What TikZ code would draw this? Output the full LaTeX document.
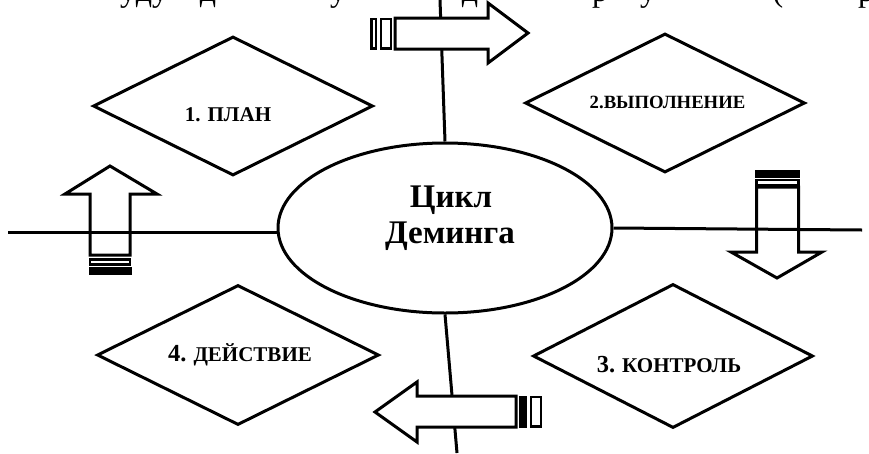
\documentclass[tikz,border=0pt]{standalone}
\usepackage{fontspec}
\setmainfont{Liberation Serif}
\usetikzlibrary{shapes.geometric}
\begin{document}
\begin{tikzpicture}[x=1pt,y=-1pt, line join=miter,
  ln/.style={line width=3pt},
  dia/.style={diamond, draw, line width=3pt, minimum width=280pt, minimum height=139pt, inner sep=0pt},
  lbl/.style={font=\bfseries, inner sep=0pt, anchor=base},
  arr/.style={draw, line width=3pt},
  bar/.style={draw, line width=2.5pt},
  frag/.style={font=\fontsize{32}{36}\selectfont, anchor=base, inner sep=0pt}]
\useasboundingbox (0,0) rectangle (869,453);
\begin{scope}
\clip (0,0) rectangle (869,453);
\node[frag] (f1) at (128,1) {у};
\node[frag] (f2) at (144,1) {д};
\node[frag] (f3) at (160,1) {у};
\node[frag] (f4) at (208,1) {д};
\node[frag] (f5) at (338,1) {у};
\node[frag] (f6) at (470,1) {д};
\node[frag] (f7) at (600,1) {р};
\node[frag] (f8) at (648,1) {у};
\node[frag] (f9) at (778,1) {(};
\node[frag] (f10) at (866,1) {р};
\end{scope}
% diamonds
\node[dia] (d1) at (233,106) {};
\node[dia] (d2) at (665,103) {};
\node[dia, minimum width=282pt, minimum height=140pt] (d4) at (238,355) {};
\node[dia, minimum height=144pt] (d3) at (673,356) {};
\node[lbl, font=\bfseries\fontsize{21}{24}\selectfont] (t1) at (228,121) {1. ПЛАН};
\node[lbl, font=\bfseries\fontsize{18.7}{22}\selectfont] (t2) at (667.5,108) {2.ВЫПОЛНЕНИЕ};
\node[lbl, font=\bfseries\fontsize{21}{24}\selectfont] (t4) at (240,361) {{\fontsize{24.5}{26}\selectfont 4.} ДЕЙСТВИЕ};
\node[lbl, font=\bfseries\fontsize{21}{24}\selectfont] (t3) at (669,372) {{\fontsize{24.5}{26}\selectfont 3.} КОНТРОЛЬ};
% ellipse
\node[ellipse, draw, line width=3pt, minimum width=334pt, minimum height=170pt] (ell) at (445,228) {};
\node[lbl, font=\bfseries\fontsize{33}{36}\selectfont] (c1) at (451,207) {Цикл};
\node[lbl, font=\bfseries\fontsize{33}{36}\selectfont] (c2) at (450,243) {Деминга};
% axis lines
\coordinate (Lend) at (8,232);
\coordinate (Rend) at (862,230);
\coordinate (Tend) at (440,0);
\coordinate (Bend) at (457,453);
\draw[ln] (Lend) -- (Lend -| ell.west);
\draw[ln] (ell.east) -- (Rend);
\draw[ln] (ell.north) -- (Tend);
\draw[ln] (ell.south) -- (Bend);
% top arrow (right)
\draw[arr, fill=white] (395,18) -- (488,18) -- (488,3) -- (528,33) -- (488,63) -- (488,49) -- (395,49) -- cycle;
\draw[bar, fill=white] (371.5,19) rectangle (376,48.5);
\draw[bar, fill=white] (381,19) rectangle (391,48.5);
% bottom arrow (left)
\draw[arr, fill=white] (516,396) -- (417,396) -- (417,382) -- (375,412) -- (417,442) -- (417,427) -- (516,427) -- cycle;
\draw[bar, fill=black] (520,397) rectangle (526,426.5);
\draw[bar, fill=white] (531,397) rectangle (541,426.5);
% left arrow (up)
\draw[arr] (90,255) -- (90,194) -- (65,194) -- (110,166) -- (157,194) -- (130,194) -- (130,255) -- cycle;
\draw[bar] (90,259.5) rectangle (130,264.5);
\fill (88.5,267) rectangle (131.5,275);
% right arrow (down)
\fill (754.5,170) rectangle (800,177.5);
\draw[bar] (756.5,180) rectangle (798.5,185);
\draw[arr] (756.5,187) -- (756.5,252) -- (731,252) -- (777,278) -- (822,252) -- (798.5,252) -- (798.5,187) -- cycle;
\end{tikzpicture}
\end{document}
